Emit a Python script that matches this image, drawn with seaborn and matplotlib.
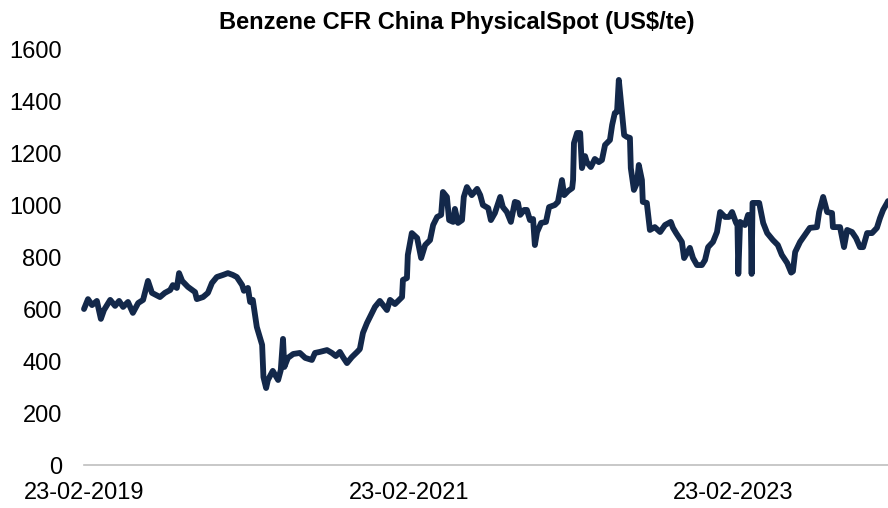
"""
Benzene CFR China physical spot price, line chart
"""

import pandas as pd
import matplotlib
matplotlib.use("Agg")
import matplotlib.pyplot as plt
import matplotlib.dates as mdates
import seaborn as sns

# Data
dates = [
    "2019-02-23", "2019-03-04", "2019-03-13", "2019-03-24", "2019-04-02", "2019-04-09",
    "2019-04-23", "2019-05-04", "2019-05-13", "2019-05-22", "2019-06-02", "2019-06-13",
    "2019-06-25", "2019-07-06", "2019-07-17", "2019-07-26", "2019-08-13", "2019-08-24",
    "2019-09-05", "2019-09-11", "2019-09-20", "2019-09-25", "2019-10-02", "2019-10-15",
    "2019-10-31", "2019-11-04", "2019-11-18", "2019-11-29", "2019-12-08", "2019-12-19",
    "2020-01-02", "2020-01-13", "2020-01-24", "2020-02-02", "2020-02-14", "2020-02-18",
    "2020-02-27", "2020-03-03", "2020-03-09", "2020-03-18", "2020-03-30", "2020-04-02",
    "2020-04-08", "2020-04-12", "2020-04-23", "2020-05-05", "2020-05-11", "2020-05-16",
    "2020-05-19", "2020-05-27", "2020-06-08", "2020-06-23", "2020-07-05", "2020-07-20",
    "2020-07-27", "2020-08-07", "2020-08-23", "2020-09-03", "2020-09-12", "2020-09-21",
    "2020-09-28", "2020-10-07", "2020-10-18", "2020-10-30", "2020-11-05", "2020-11-12",
    "2020-11-21", "2020-11-30", "2020-12-09", "2020-12-20", "2021-01-05", "2021-01-12",
    "2021-01-23", "2021-02-08", "2021-02-10", "2021-02-19", "2021-02-21", "2021-03-02",
    "2021-03-14", "2021-03-23", "2021-04-01", "2021-04-12", "2021-04-19", "2021-04-28",
    "2021-05-07", "2021-05-11", "2021-05-20", "2021-05-25", "2021-06-03", "2021-06-07",
    "2021-06-14", "2021-06-23", "2021-06-27", "2021-07-04", "2021-07-15", "2021-07-27",
    "2021-08-03", "2021-08-09", "2021-08-21", "2021-08-27", "2021-09-05", "2021-09-17",
    "2021-09-23", "2021-10-02", "2021-10-11", "2021-10-20", "2021-10-27", "2021-11-01",
    "2021-11-10", "2021-11-16", "2021-11-23", "2021-11-30", "2021-12-04", "2021-12-09",
    "2021-12-18", "2021-12-29", "2022-01-05", "2022-01-18", "2022-01-25", "2022-02-03",
    "2022-02-08", "2022-02-17", "2022-02-26", "2022-02-28", "2022-03-02", "2022-03-09",
    "2022-03-16", "2022-03-20", "2022-03-27", "2022-03-31", "2022-04-09", "2022-04-18",
    "2022-04-27", "2022-05-04", "2022-05-11", "2022-05-22", "2022-05-27", "2022-06-02",
    "2022-06-07", "2022-06-11", "2022-06-18", "2022-06-23", "2022-06-29", "2022-07-06",
    "2022-07-08", "2022-07-15", "2022-07-22", "2022-07-26", "2022-08-02", "2022-08-04",
    "2022-08-13", "2022-08-16", "2022-08-20", "2022-08-31", "2022-09-12", "2022-09-23",
    "2022-10-06", "2022-10-11", "2022-10-18", "2022-10-31", "2022-11-05", "2022-11-18",
    "2022-11-25", "2022-12-04", "2022-12-15", "2022-12-22", "2022-12-29", "2023-01-09",
    "2023-01-18", "2023-01-25", "2023-02-05", "2023-02-14", "2023-02-21", "2023-03-02",
    "2023-03-05", "2023-03-07", "2023-03-11", "2023-03-22", "2023-03-29", "2023-04-04",
    "2023-04-06", "2023-04-08", "2023-04-23", "2023-05-02", "2023-05-11", "2023-05-24",
    "2023-06-04", "2023-06-13", "2023-06-25", "2023-07-04", "2023-07-08", "2023-07-13",
    "2023-07-24", "2023-08-04", "2023-08-15", "2023-08-31", "2023-09-05", "2023-09-14",
    "2023-09-23", "2023-10-04", "2023-10-06", "2023-10-22", "2023-10-31", "2023-11-07",
    "2023-11-18", "2023-11-27", "2023-12-06", "2023-12-13", "2023-12-22", "2024-01-02",
    "2024-01-13", "2024-01-20", "2024-01-27", "2024-02-05", "2024-02-07",
]
prices = [
    600, 638, 615, 631, 562, 596,
    635, 612, 631, 608, 627, 585,
    623, 635, 708, 662, 646, 662,
    673, 692, 681, 738, 708, 685,
    665, 638, 646, 662, 700, 723,
    731, 738, 731, 723, 692, 670,
    681, 627, 635, 531, 462, 338,
    296, 327, 362, 327, 365, 485,
    377, 412, 427, 431, 412, 404,
    431, 435, 442, 431, 419, 435,
    415, 392, 415, 435, 446, 508,
    546, 577, 608, 631, 596, 635,
    619, 646, 712, 719, 808, 892,
    873, 796, 846, 865, 923, 954,
    962, 1050, 1031, 942, 935, 985,
    931, 942, 1031, 1069, 1038, 1062,
    1038, 1000, 988, 942, 969, 1031,
    992, 973, 935, 1012, 1008, 962,
    981, 981, 942, 946, 846, 896,
    931, 935, 992, 1000, 1012, 1096,
    1038, 1054, 1065, 1096, 1238, 1277,
    1277, 1142, 1188, 1165, 1146, 1177,
    1165, 1173, 1231, 1250, 1308, 1354,
    1358, 1481, 1358, 1269, 1262, 1258,
    1142, 1058, 1085, 1154, 1096, 1012,
    1008, 962, 904, 915, 896, 923,
    935, 912, 892, 858, 796, 835,
    796, 769, 769, 788, 838, 858,
    896, 973, 954, 954, 973, 931,
    931, 735, 935, 923, 962, 950,
    735, 1008, 1008, 931, 892, 865,
    846, 808, 777, 740, 745, 819,
    858, 885, 912, 915, 973, 1031,
    973, 969, 915, 915, 838, 904,
    896, 873, 838, 838, 892, 892,
    912, 950, 981, 1008, 1015,
]
tick_dates = ["2019-02-23", "2021-02-23", "2023-02-23"]
y_ticks = [0, 200, 400, 600, 800, 1000, 1200, 1400, 1600]

LINE_COLOR = "#13284a"
AXIS_GRAY = "#bfbfbf"

df = pd.DataFrame({"date": pd.to_datetime(dates), "price": prices})

sns.set_style("white")
plt.rcParams["font.family"] = ["Liberation Sans", "DejaVu Sans"]

fig = plt.figure(figsize=(8.88, 5.08), dpi=100)
ax = fig.add_axes([84 / 888, 43 / 508, 1 - 84 / 888, 416 / 508])

sns.lineplot(data=df, x="date", y="price", ax=ax, color=LINE_COLOR,
             linewidth=4.2, solid_joinstyle="round", clip_on=False)

ax.set_xlim(pd.Timestamp("2019-02-23"), pd.Timestamp("2024-02-07"))
ax.set_ylim(0, 1600)
ax.set_yticks(y_ticks)
ax.set_xticks(pd.to_datetime(tick_dates))
ax.xaxis.set_major_formatter(mdates.DateFormatter("%d-%m-%Y"))

ax.set_xlabel("")
ax.set_ylabel("")
for side in ["top", "right", "left"]:
    ax.spines[side].set_visible(False)
ax.spines["bottom"].set_color(AXIS_GRAY)
ax.spines["bottom"].set_linewidth(1.2)

ax.tick_params(axis="y", length=0, pad=16, labelsize=17, colors="black")
ax.tick_params(axis="x", length=6, width=1.2, color=AXIS_GRAY, pad=6,
               labelsize=17, labelcolor="black")

fig.text(457 / 888, 1 - 22 / 508, "Benzene CFR China PhysicalSpot (US$/te)",
         ha="center", va="center", fontsize=17, fontweight="bold",
         color="black")

fig.savefig("out.png", dpi=100)
